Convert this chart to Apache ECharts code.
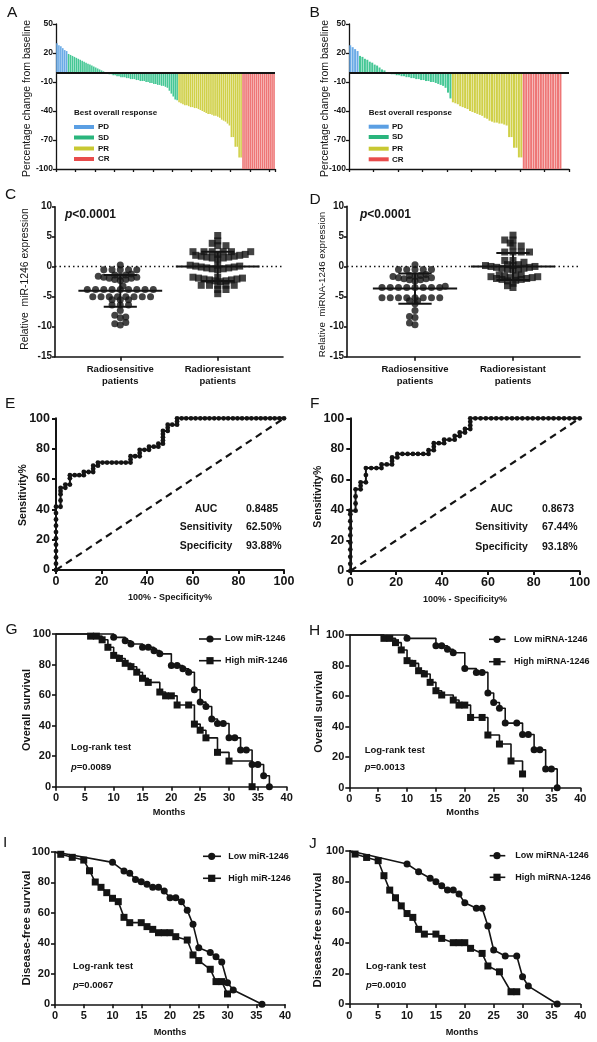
<!DOCTYPE html>
<html><head><meta charset="utf-8">
<script src="https://cdn.jsdelivr.net/npm/echarts@6/dist/echarts.min.js"></script>
<style>html,body{margin:0;padding:0;background:#fff}#c{width:597px;height:1042px}</style>
</head><body><div id="c"></div>
<script>
const FONT = '"Liberation Sans", Arial, Helvetica, sans-serif';
const INK = '#141414';

// ---------- Panels A / B : waterfall ----------
const responseNames = ['PD', 'SD', 'PR', 'CR'];
const responseColors = ['#6aaae6', '#45c795', '#d0d048', '#ee7676'];
const legendColors = ['#5b9fe3', '#2ab57d', '#c8c832', '#e84c4c'];
const yTicksAB = [-100, -70, -40, -10, 20, 50];

const pdA = [30, 28, 27, 25, 23, 22];
const sdA = [19, 18, 17, 16, 15, 14, 13, 12, 11, 10, 9, 8, 7, 6, 5, 4, 3, 2, 1,
  -1, -1, -2, -2, -3, -3, -4, -4, -5, -5, -5, -6, -6, -7, -7, -7, -8, -8, -9, -9, -9,
  -10, -10, -11, -11, -12, -12, -13, -13, -14, -14, -15, -16, -19, -22, -25, -28, -29];
const prA = [-31, -32, -33, -34, -34, -35, -36, -36, -37, -37, -38, -39, -40, -41, -42, -43, -43,
  -44, -45, -45, -46, -47, -49, -50, -51, -53, -55, -67, -67, -77, -77, -88, -88];
const crA = [-100, -100, -100, -100, -100, -100, -100, -100, -100, -100, -100, -100, -100, -100, -100, -100, -100];

const pdB = [28, 26, 24, 22];
const sdB = [17, 16, 14, 13, 11, 10, 8, 7, 5, 3, 2,
  -1, -1, -2, -2, -3, -3, -4, -4, -5, -5, -6, -6, -7, -7, -8, -8, -9, -9, -10, -10,
  -11, -12, -13, -14, -16, -21, -27];
const prB = [-31, -32, -33, -35, -36, -37, -38, -40, -41, -42, -43, -44, -45, -47, -48, -50, -51,
  -52, -52, -53, -53, -54, -55, -67, -67, -78, -78, -88, -88];
const crB = [-100, -100, -100, -100, -100, -100, -100, -100, -100, -100, -100, -100, -100, -100, -100, -100];

// ---------- Panels C / D : expression scatter ----------
const groupNames = ['Radiosensitive\npatients', 'Radioresistant\npatients'];
const sensC = [0.3, -0.5, -0.5, -0.5, -0.5, -0.5,
  -2.3, -2.12, -2.12, -1.94, -1.94, -1.76, -1.76, -1.58, -1.58, -1.4, -1.4, -1.22,
  -3.2, -3.8, -3.8, -3.8, -3.8, -3.8, -3.8, -3.8, -3.8, -3.8,
  -5.0, -5.0, -5.0, -5.0, -5.0, -5.0, -5.0, -5.0, -5.5, -5.5, -5.5, -6.4, -6.4, -6.4,
  -7.3, -8.1, -8.4, -8.5, -9.3, -9.5, -9.7];
const resC = [5.2, 4.3, 3.9, 3.5, 3.5, 2.5, 2.5, 2.5, 2.5, 2.5, 2.5,
  1.3, 1.45, 1.45, 1.6, 1.6, 1.75, 1.75, 1.9, 1.9, 2.05, 2.05,
  -0.5, -0.35, -0.35, -0.2, -0.2, -0.05, -0.05, 0.1, 0.1, 0.25, 0.25,
  -2.5, -2.35, -2.35, -2.2, -2.2, -2.05, -2.05, -1.9, -1.9, -1.75, -1.75,
  -3.1, -3.1, -3.1, -3.1, -3.1, -3.8, -3.8, -4.5];
const sensD = [0.3, -0.5, -0.5, -0.5, -0.5, -0.5,
  -2.4, -2.22, -2.22, -2.04, -2.04, -1.86, -1.86, -1.68, -1.68, -1.5, -1.5, -1.32,
  -3.3, -3.5, -3.5, -3.5, -3.5, -3.5, -3.5, -3.5, -3.5,
  -5.2, -5.2, -5.2, -5.2, -5.2, -5.2, -5.2, -5.2, -5.7, -5.7, -6.2, -7.3, -8.3, -8.5, -9.4, -9.7];
const resD = [5.2, 4.4, 4.4, 3.9, 3.4, 3.4, 2.4, 2.4, 2.4, 2.4, 1.0, 1.0, 0.7,
  -0.6, -0.45, -0.45, -0.3, -0.3, -0.15, -0.15, 0, 0, 0.15, 0.15, 0.3, 0.3,
  -2.3, -2.15, -2.15, -2.0, -2.0, -1.85, -1.85, -1.7, -1.7, -1.55, -1.55, -1.4, -1.4,
  -2.4, -2.8, -3.2, -3.5];

// ---------- Panels E / F : ROC ----------
const rocE = [[0,0],[0,4.2],[0,8.3],[0,12.5],[0,16.7],[0,20.8],[0,25],[0,29.2],[0,33.3],[0,37.5],[0,41.7],
  [2,41.7],[2,45.8],[2,50],[2,52.1],[2,54.2],[4.1,54.2],[4.1,56.3],[6.1,56.3],[6.1,60.4],[6.1,62.5],
  [8.2,62.5],[10.2,62.5],[12.2,62.5],[12.2,64.6],[14.3,64.6],[16.3,64.6],[16.3,66.7],[16.3,68.8],
  [18.4,68.8],[18.4,70.8],[20.4,70.8],[22.4,70.8],[24.5,70.8],[26.5,70.8],[28.6,70.8],[30.6,70.8],
  [32.7,70.8],[32.7,72.9],[32.7,75],[34.7,75],[36.7,75],[36.7,77.1],[36.7,79.2],[38.8,79.2],[40.8,79.2],
  [40.8,81.3],[42.9,81.3],[44.9,81.3],[44.9,83.3],[46.9,83.3],[46.9,85.4],[46.9,87.5],[46.9,89.6],
  [46.9,91.7],[49,91.7],[49,93.8],[49,95.8],[51,95.8],[53.1,95.8],[53.1,97.9],[53.1,100],[55.1,100],
  [57.1,100],[59.2,100],[61.2,100],[63.3,100],[65.3,100],[67.3,100],[69.4,100],[71.4,100],[73.5,100],
  [75.5,100],[77.6,100],[79.6,100],[81.6,100],[83.7,100],[85.7,100],[87.8,100],[89.8,100],[91.8,100],
  [93.9,100],[95.9,100],[98,100],[100,100]];
const rocF = [[0,0],[0,4.7],[0,9.3],[0,14],[0,18.6],[0,23.3],[0,27.9],[0,32.6],[0,37.2],[0,39.5],
  [2.3,39.5],[2.3,44.2],[2.3,48.8],[2.3,53.5],[4.5,53.5],[4.5,55.8],[4.5,58.1],[6.8,58.1],[6.8,62.8],
  [6.8,67.4],[9.1,67.4],[11.4,67.4],[13.6,67.4],[13.6,69.8],[15.9,69.8],[18.2,69.8],[18.2,72.1],
  [18.2,74.4],[20.5,74.4],[20.5,76.7],[22.7,76.7],[25,76.7],[27.3,76.7],[29.5,76.7],[31.8,76.7],
  [34.1,76.7],[34.1,79.1],[36.4,79.1],[36.4,81.4],[36.4,83.7],[38.6,83.7],[40.9,83.7],[40.9,86],
  [43.2,86],[45.5,86],[45.5,88.4],[47.7,88.4],[47.7,90.7],[50,90.7],[50,93],[52.3,93],[52.3,95.3],
  [52.3,97.7],[52.3,100],[54.5,100],[56.8,100],[59.1,100],[61.4,100],[63.6,100],[65.9,100],[68.2,100],
  [70.5,100],[72.7,100],[75,100],[77.3,100],[79.5,100],[81.8,100],[84.1,100],[86.4,100],[88.6,100],
  [90.9,100],[93.2,100],[95.5,100],[97.7,100],[100,100]];
const statLabels = ['AUC', 'Sensitivity', 'Specificity'];
const statsE = ['0.8485', '62.50%', '93.88%'];
const statsF = ['0.8673', '67.44%', '93.18%'];

// ---------- Panels G-J : survival ----------
const kmG_low = [[0,100],[10,97.8],[12,95.6],[13,93.5],[15,91.3],[16,91.3],[17,89.1],[18,87],[20,79.3],[21,79.3],
  [22,77.2],[23,75],[24,63.5],[25,55.4],[26,52.5],[27,44.3],[28,41.4],[29,41.4],[30,32],[31,32],[32,24],[33,24],
  [34,14.5],[35,14.5],[36,7.2],[37,0]];
const kmG_high = [[0,100],[6,98.6],[7,98.6],[8,96.2],[9,91.3],[10,86],[11,84],[12,80.8],[13,78.6],[14,75],[15,71],
  [16,68.3],[18,62],[19,59.5],[20,59.5],[21,53.5],[23,53.5],[24,41],[25,37],[26,32],[28,22.5],[30,16.8],[34,0]];
const kmH_low = [[0,100],[10,97.8],[15,93],[16,93],[17,90.7],[18,88.4],[20,78],[22,75.5],[23,75.5],[24,62],
  [25,55.8],[26,52],[27,42.3],[29,42.3],[30,34.8],[31,34.8],[32,24.8],[33,24.8],[34,12.3],[35,12.3],[36,0]];
const kmH_high = [[0,100],[6,97.8],[7,97.8],[8,95],[9,90.2],[10,83.2],[11,81.4],[12,76.6],[13,74.5],[14,69],
  [15,63.5],[16,60.7],[18,57.4],[19,54.1],[20,54.1],[21,46],[23,46],[24,34.5],[26,28.6],[28,17.5],[30,9]];
const kmI_low = [[0,100],[10,93.2],[12,87.5],[13,86],[14,82],[15,80.5],[16,78.8],[17,76.8],[18,76.8],[19,74.4],
  [20,70],[21,70],[22,67.4],[23,61.7],[24,52.5],[25,37.2],[27,34],[28,31.3],[29,27.8],[30,14.2],[31,9.4],[36,0]];
const kmI_high = [[0,100],[1,98.5],[3,96.5],[5,94.7],[6,87.7],[7,80.3],[8,76.8],[9,73.3],[10,69.6],[11,67.4],
  [12,57.1],[13,53.6],[15,53.6],[16,51],[17,49.2],[18,47],[19,47],[20,47],[21,44.4],[23,42.2],[24,32.4],
  [25,28.7],[27,23],[28,14.9],[29,14.9],[30,6.8]];
const kmJ_low = [[0,100],[10,91.3],[12,86.3],[14,82],[15,79.8],[16,77.2],[17,74.3],[18,74.3],[19,71.7],[20,66],
  [22,62.4],[23,62.4],[24,50.9],[25,35.2],[27,31.3],[29,31.3],[30,17.8],[31,11.7],[36,0]];
const kmJ_high = [[0,100],[1,97.8],[3,95.6],[5,93.5],[6,83.7],[7,74.3],[8,69.3],[9,64],[10,59],[11,56.5],
  [12,48.7],[13,45.6],[15,45.6],[16,42.8],[18,40],[19,40],[20,40],[21,36.3],[23,33],[24,24.8],[26,21],[28,8],[29,8]];
const namesMiR = ['Low miR-1246', 'High miR-1246'];
const namesMiRNA = ['Low miRNA-1246', 'High miRNA-1246'];
const pVals = { G: '0.0089', H: '0.0013', I: '0.0067', J: '0.0010' };

// ---------- layout ----------
const L = {
  A: {left: 56, top: 24, width: 219, height: 145},
  B: {left: 349, top: 24, width: 220, height: 145},
  C: {left: 55, top: 206.7, width: 228, height: 150},
  D: {left: 347, top: 206.3, width: 233, height: 150.4},
  E: {left: 56, top: 418.3, width: 228, height: 151.7},
  F: {left: 350.3, top: 418.3, width: 229.4, height: 152.7},
  G: {left: 56, top: 634, width: 230.7, height: 152.7},
  H: {left: 349.3, top: 635, width: 231, height: 152.7},
  I: {left: 55, top: 852, width: 230, height: 152.3},
  J: {left: 349.3, top: 850.7, width: 231, height: 153.3}
};

const grid = [], xAxis = [], yAxis = [], series = [], graphic = [];

function addGrid(k) { grid.push(Object.assign({outerBoundsMode: 'none'}, L[k])); return grid.length - 1; }
function axis(gi, fontSize, margin, lw, extra) {
  return Object.assign({
    gridIndex: gi,
    axisLine: {show: true, onZero: false, lineStyle: {color: INK, width: lw}},
    axisTick: {show: true, length: 4, lineStyle: {color: INK, width: lw}},
    splitLine: {show: false},
    axisLabel: {color: INK, fontFamily: FONT, fontWeight: 'bold', fontSize: fontSize, margin: margin}
  }, extra || {});
}
function txt(text, x, y, o) {
  o = o || {};
  graphic.push({
    type: 'text', x: x, y: y, rotation: o.rot || 0, silent: true, z: 100,
    style: {
      text: text, fill: INK, fontFamily: FONT, fontSize: o.size || 10,
      fontWeight: o.weight || 'bold', align: o.align || 'left', verticalAlign: 'middle',
      rich: o.rich
    }
  });
}

// ----- waterfall panels -----
function waterfall(key, parts, pad) {
  const gi = addGrid(key);
  const n = parts.reduce((s, a) => s + a.length, 0) + pad;
  const cats = Array.from({length: n}, (_, i) => String(i + 1));
  const xa = axis(gi, 8, 3, 1.3, {type: 'category', data: cats, boundaryGap: true});
  xa.axisTick.interval = 9; xa.axisTick.length = 3; xa.axisLabel.show = false;
  xAxis.push(xa);
  const ya = axis(gi, 8.5, 3, 1.3, {type: 'value', min: -100, max: 50});
  ya.axisTick.customValues = yTicksAB; ya.axisTick.length = 3;
  ya.axisLabel.customValues = yTicksAB;
  yAxis.push(ya);
  const xi = xAxis.length - 1, yi = yAxis.length - 1;
  let off = 0;
  parts.forEach((arr, k) => {
    const start = off;
    const data = cats.map((c, i) => (i >= start && i < start + arr.length) ? arr[i - start] : '-');
    off += arr.length;
    const s = {
      type: 'bar', name: responseNames[k], xAxisIndex: xi, yAxisIndex: yi, data: data,
      barGap: '-100%', barCategoryGap: '18%', itemStyle: {color: responseColors[k]}, silent: true
    };
    if (k === 0) s.markLine = {silent: true, symbol: 'none', label: {show: false}, z: 10,
      lineStyle: {color: INK, width: 2, type: 'solid'}, data: [{yAxis: 0}]};
    series.push(s);
  });
}
waterfall('A', [pdA, sdA, prA, crA], 0);
waterfall('B', [pdB, sdB, prB, crB], 3);

function responseLegend(x, yTitle, ys, tx) {
  txt('Best overall response', x, yTitle, {size: 8});
  responseNames.forEach((nm, k) => {
    graphic.push({type: 'rect', silent: true, z: 100, shape: {x: x, y: ys[k] - 2, width: 20, height: 4},
      style: {fill: legendColors[k]}});
    txt(nm, tx, ys[k], {size: 8});
  });
}
responseLegend(74, 113, [127, 137.5, 148.5, 159], 98);
responseLegend(368.7, 112.7, [126.7, 137, 148.7, 159.3], 392);
txt('Percentage change from baseline', 27, 98.5, {rot: Math.PI / 2, size: 10.5, weight: 'normal', align: 'center'});
txt('Percentage change from baseline', 325, 98.5, {rot: Math.PI / 2, size: 10.5, weight: 'normal', align: 'center'});

// ----- scatter panels -----
const mean = a => a.reduce((s, v) => s + v, 0) / a.length;
const stdev = a => { const m = mean(a); return Math.sqrt(a.reduce((s, v) => s + (v - m) * (v - m), 0) / (a.length - 1)); };

// column-scatter layout: equal values sit side by side, near values chain with overlap
function swarm(values, center, key, xMin, xMax) {
  const g = L[key];
  const pxX = g.width / (xMax - xMin), pxY = g.height / 25;
  const order = values.map((v, i) => i).sort((a, b) => values[a] - values[b]);
  const cands = [0];
  for (let k = 1; k <= 40; k++) cands.push(k * 2.75, -k * 2.75);
  const placed = [], out = new Array(values.length);
  let flip = 1;
  order.forEach(i => {
    const py = values[i] * pxY;
    for (const c0 of cands) {
      const c = c0 * flip;
      const bad = placed.some(p => {
        const dx = Math.abs(p[0] - c), dy = Math.abs(p[1] - py);
        return (dy < 0.5 && dx < 7.6) || (dx * dx + dy * dy < 3.9 * 3.9);
      });
      if (!bad) { placed.push([c, py]); out[i] = [center + c / pxX, values[i]]; break; }
    }
    flip = -flip;
  });
  return out;
}

function scatterPanel(key, sens, res, xMin, xMax) {
  const gi = addGrid(key);
  const xa = axis(gi, 9.5, 7, 1.6, {type: 'value', min: xMin, max: xMax});
  xa.axisTick.customValues = [1, 2];
  xa.axisLabel.customValues = [1, 2];
  xa.axisLabel.lineHeight = 12;
  xa.axisLabel.formatter = v => groupNames[Math.round(v) - 1];
  xAxis.push(xa);
  const ya = axis(gi, 10, 3, 1.6, {type: 'value', min: -15, max: 10, interval: 5});
  ya.axisTick.length = 3;
  yAxis.push(ya);
  const xi = xAxis.length - 1, yi = yAxis.length - 1;
  series.push({type: 'scatter', xAxisIndex: xi, yAxisIndex: yi, symbol: 'circle', symbolSize: 7,
    itemStyle: {color: INK}, data: swarm(sens, 1, key, xMin, xMax), silent: true,
    markLine: {silent: true, symbol: 'none', label: {show: false},
      lineStyle: {color: INK, width: 1.4, type: [1.5, 3]}, data: [{yAxis: 0}]}});
  series.push({type: 'scatter', xAxisIndex: xi, yAxisIndex: yi, symbol: 'rect', symbolSize: 7,
    itemStyle: {color: INK}, data: swarm(res, 2, key, xMin, xMax), silent: true});
  series.push({type: 'custom', xAxisIndex: xi, yAxisIndex: yi, silent: true, z: 5,
    data: [[1, mean(sens), stdev(sens)], [2, mean(res), stdev(res)]],
    renderItem: (params, api) => {
      const c = api.value(0), m = api.value(1), s = api.value(2);
      const seg = (x1, y1, x2, y2) => {
        const a = api.coord([x1, y1]), b = api.coord([x2, y2]);
        return {type: 'line', shape: {x1: a[0], y1: a[1], x2: b[0], y2: b[1]}, style: {stroke: INK, lineWidth: 2}};
      };
      return {type: 'group', children: [
        seg(c - 0.43, m, c + 0.43, m), seg(c, m - s, c, m + s),
        seg(c - 0.17, m + s, c + 0.17, m + s), seg(c - 0.17, m - s, c + 0.17, m - s)
      ]};
    }});
}
scatterPanel('C', sensC, resC, 0.33, 2.67);
scatterPanel('D', sensD, resD, 0.306, 2.684);
const pRich = {i: {fontStyle: 'italic', fontWeight: 'bold', fontSize: 12, fontFamily: FONT, fill: INK}};
txt('{i|p}<0.0001', 65, 215, {size: 12, rich: pRich});
txt('{i|p}<0.0001', 360, 215, {size: 12, rich: pRich});
txt('Relative  miR-1246 expression', 25, 279, {rot: Math.PI / 2, size: 10.4, weight: 'normal', align: 'center'});
txt('Relative  miRNA-1246 expression', 322, 284.5, {rot: Math.PI / 2, size: 9.7, weight: 'normal', align: 'center'});

// ----- ROC panels -----
function rocPanel(key, pts, stats, lx, vx, ys) {
  const gi = addGrid(key);
  xAxis.push(axis(gi, 12.5, 5, 2, {type: 'value', min: 0, max: 100, interval: 20}));
  yAxis.push(axis(gi, 12.5, 6, 2, {type: 'value', min: 0, max: 100, interval: 20}));
  const xi = xAxis.length - 1, yi = yAxis.length - 1;
  series.push({type: 'line', xAxisIndex: xi, yAxisIndex: yi, data: [[0, 0], [100, 100]], symbol: 'none',
    lineStyle: {color: INK, width: 2.2, type: [7, 5]}, silent: true});
  series.push({type: 'line', xAxisIndex: xi, yAxisIndex: yi, data: pts, symbol: 'circle', symbolSize: 4.8,
    showSymbol: true, clip: false, lineStyle: {color: INK, width: 2}, itemStyle: {color: INK}, silent: true});
  statLabels.forEach((s, k) => {
    txt(s, lx, ys[k], {size: 10.5, align: 'center'});
    txt(stats[k], vx, ys[k], {size: 10.5});
  });
}
rocPanel('E', rocE, statsE, 206, 246, [509, 527.5, 546]);
rocPanel('F', rocF, statsF, 501.5, 542, [509.3, 527.3, 546.7]);
txt('Sensitivity%', 23, 495, {rot: Math.PI / 2, size: 10.5, align: 'center'});
txt('Sensitivity%', 317.7, 496.7, {rot: Math.PI / 2, size: 10.5, align: 'center'});
txt('100% - Specificity%', 170, 598, {size: 9, align: 'center'});
txt('100% - Specificity%', 465, 599.3, {size: 9, align: 'center'});

// ----- survival panels -----
function kmPanel(key, low, high, names, stepped, yTitle, yt, xt, leg, lr) {
  const gi = addGrid(key);
  xAxis.push(axis(gi, 11, 6, 1.6, {type: 'value', min: 0, max: 40, interval: 5}));
  yAxis.push(axis(gi, 11, 5, 1.6, {type: 'value', min: 0, max: 100, interval: 20}));
  const xi = xAxis.length - 1, yi = yAxis.length - 1;
  const mk = arr => arr.map((p, i) => i === 0 ? {value: p, symbol: 'none'} : p);
  [[low, 'circle'], [high, 'rect']].forEach(([arr, sym], k) => {
    series.push({type: 'line', name: names[k], xAxisIndex: xi, yAxisIndex: yi, data: mk(arr),
      step: stepped ? 'end' : false, symbol: sym, symbolSize: 7, showSymbol: true, clip: false,
      lineStyle: {color: INK, width: 1.6}, itemStyle: {color: INK}, silent: true});
  });
  const syms = ['circle', 'rect'];
  leg.ys.forEach((y, k) => {
    graphic.push({type: 'line', silent: true, z: 100, shape: {x1: leg.x1, y1: y, x2: leg.x2, y2: y},
      style: {stroke: INK, lineWidth: 1.6}});
    if (syms[k] === 'circle') graphic.push({type: 'circle', silent: true, z: 101, shape: {cx: leg.mx, cy: y, r: 3.6}, style: {fill: INK}});
    else graphic.push({type: 'rect', silent: true, z: 101, shape: {x: leg.mx - 3.6, y: y - 3.6, width: 7.2, height: 7.2}, style: {fill: INK}});
    txt(names[k], leg.tx, y, {size: 9});
  });
  txt('Log-rank test', lr.x, lr.y1, {size: 9.5});
  txt('{i|p}=' + pVals[key], lr.x, lr.y2, {size: 9.5,
    rich: {i: {fontStyle: 'italic', fontWeight: 'bold', fontSize: 9.5, fontFamily: FONT, fill: INK}}});
  txt(yTitle, yt[0], yt[1], {rot: Math.PI / 2, size: yTitle.length > 17 ? 11.5 : 11, align: 'center'});
  txt('Months', xt[0], xt[1], {size: 9.2, align: 'center'});
}
kmPanel('G', kmG_low, kmG_high, namesMiR, true, 'Overall survival', [27, 710], [169, 812.7],
  {x1: 199, x2: 221, mx: 210, tx: 225, ys: [639, 660.7]}, {x: 71, y1: 747.7, y2: 767});
kmPanel('H', kmH_low, kmH_high, namesMiRNA, true, 'Overall survival', [318.7, 711.7], [462.7, 812.7],
  {x1: 489, x2: 505.5, mx: 497, tx: 514, ys: [639.3, 661.7]}, {x: 364.7, y1: 750, y2: 767.7});
kmPanel('I', kmI_low, kmI_high, namesMiR, false, 'Disease-free survival', [27, 928], [170, 1032],
  {x1: 203, x2: 221, mx: 211.7, tx: 228.3, ys: [856.3, 878.3]}, {x: 73, y1: 966, y2: 985});
kmPanel('J', kmJ_low, kmJ_high, namesMiRNA, false, 'Disease-free survival', [317.7, 930], [462, 1032],
  {x1: 489.7, x2: 505.3, mx: 497, tx: 515.3, ys: [855.7, 877.3]}, {x: 366, y1: 966, y2: 985});

// ----- panel letters -----
[['A', 7, 12.8], ['B', 309.5, 12.8], ['C', 5, 194.5], ['D', 309.5, 199.5], ['E', 5, 404], ['F', 310, 404],
 ['G', 5.5, 630], ['H', 309, 631], ['I', 3, 843], ['J', 309, 843.5]].forEach(([t, x, y]) =>
  txt(t, x, y, {size: 15.5, weight: 'normal'}));

const chart = echarts.init(document.getElementById('c'), null, {renderer: 'canvas'});
chart.setOption({
  animation: false, backgroundColor: '#ffffff', textStyle: {fontFamily: FONT},
  grid: grid, xAxis: xAxis, yAxis: yAxis, series: series, graphic: graphic
});
</script></body></html>
